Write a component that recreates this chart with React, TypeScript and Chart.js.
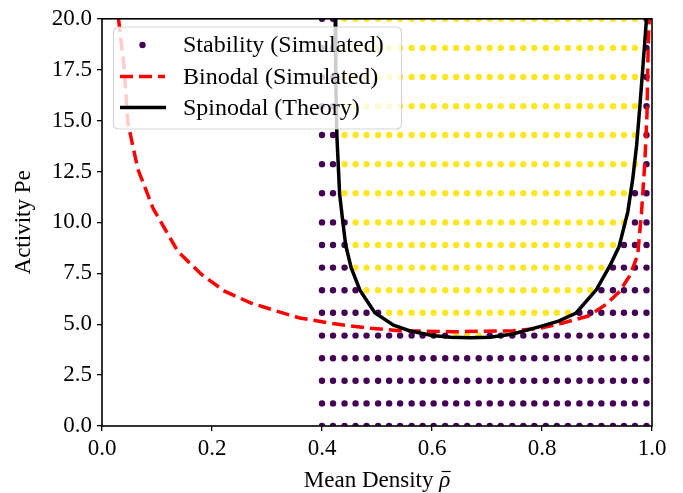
import React, { useEffect, useRef } from "react";
import { Chart, registerables } from "chart.js";

Chart.register(...registerables);

// ---- Data ----
const densities = [
  0.400, 0.420, 0.441, 0.461, 0.481, 0.502, 0.522, 0.542, 0.563, 0.583,
  0.603, 0.624, 0.644, 0.664, 0.685, 0.705, 0.725, 0.746, 0.766, 0.786,
  0.807, 0.827, 0.847, 0.868, 0.888, 0.908, 0.929, 0.949, 0.969, 0.990,
];

const peLevels = [
  0, 1.11, 2.22, 3.33, 4.44, 5.56, 6.67, 7.78, 8.89, 10,
  11.43, 12.86, 14.29, 15.71, 17.14, 18.57, 20,
];

// one string per Pe level (bottom to top); 0 = stable (purple), 1 = unstable (yellow)
const stabilityRows = [
  "000000000000000000000000000000",
  "000000000000000000000000000000",
  "000000000000000000000000000000",
  "000000000000000000000000000000",
  "000000000000111000000000000000",
  "000000111111111111111110000000",
  "000011111111111111111111100000",
  "000111111111111111111111110000",
  "000111111111111111111111111000",
  "000111111111111111111111111100",
  "001111111111111111111111111100",
  "001111111111111111111111111110",
  "001111111111111111111111111110",
  "001111111111111111111111111110",
  "001111111111111111111111111110",
  "001111111111111111111111111110",
  "001111111111111111111111111110",
];

const binodalDensity = [
  0.030, 0.040, 0.047, 0.065, 0.093, 0.138, 0.181, 0.223, 0.270, 0.317,
  0.360, 0.420, 0.480, 0.540, 0.640, 0.747, 0.796, 0.838, 0.884, 0.917,
  0.941, 0.960, 0.974, 0.981, 0.987, 0.991, 0.993, 0.995,
];
const binodalPe = [
  20.0, 17.67, 14.9, 12.63, 10.68, 8.57, 7.44, 6.62, 6.05, 5.65,
  5.30, 5.03, 4.82, 4.68, 4.63, 4.68, 4.80, 5.06, 5.40, 5.98,
  6.60, 7.40, 8.40, 10.5, 12.96, 15.4, 18.6, 20.0,
];

const spinodalDensity = [
  0.424, 0.425, 0.427, 0.432, 0.438, 0.443, 0.453, 0.469, 0.496, 0.530,
  0.559, 0.600, 0.634, 0.670, 0.706, 0.747, 0.796, 0.830, 0.862, 0.899,
  0.923, 0.940, 0.956, 0.965, 0.972, 0.978, 0.984, 0.990,
];
const spinodalPe = [
  20.0, 17.0, 14.3, 11.4, 10.0, 8.89, 7.78, 6.67, 5.56, 4.95,
  4.68, 4.45, 4.36, 4.33, 4.36, 4.52, 4.88, 5.15, 5.55, 6.70,
  7.85, 8.80, 10.52, 12.14, 13.77, 15.72, 17.83, 20.0,
];

const xTickValues = [0, 0.2, 0.4, 0.6, 0.8, 1.0];
const xTickLabels = ["0.0", "0.2", "0.4", "0.6", "0.8", "1.0"];
const yTickValues = [0, 2.5, 5, 7.5, 10, 12.5, 15, 17.5, 20];
const yTickLabels = ["0.0", "2.5", "5.0", "7.5", "10.0", "12.5", "15.0", "17.5", "20.0"];

const legendLabels = ["Stability (Simulated)", "Binodal (Simulated)", "Spinodal (Theory)"];
const xTitle = "Mean Density ";
const xTitleSymbol = "\u03C1";
const yTitle = "Activity Pe";

const STABLE = "#440154";
const UNSTABLE = "#fde725";
const RED = "#ff0000";
const FONT = "'Liberation Serif', 'Times New Roman', serif";
const FS = 23;
const LEG_FS = 24;

const overlayPlugin = {
  id: "overlay",
  afterDatasetsDraw(chart: any) {
    const { ctx, chartArea: a } = chart;
    ctx.save();
    ctx.strokeStyle = "#000";
    ctx.lineWidth = 1.6;
    ctx.strokeRect(a.left, a.top, a.right - a.left, a.bottom - a.top);
    ctx.restore();
  },
  afterDraw(chart: any) {
    const { ctx, chartArea: a } = chart;
    ctx.save();
    // legend frame
    const fx = 113.5, fy = 27, fw = 288, fh = 102, r = 5;
    ctx.beginPath();
    ctx.moveTo(fx + r, fy);
    ctx.arcTo(fx + fw, fy, fx + fw, fy + fh, r);
    ctx.arcTo(fx + fw, fy + fh, fx, fy + fh, r);
    ctx.arcTo(fx, fy + fh, fx, fy, r);
    ctx.arcTo(fx, fy, fx + fw, fy, r);
    ctx.closePath();
    ctx.fillStyle = "rgba(255,255,255,0.8)";
    ctx.fill();
    ctx.strokeStyle = "rgba(204,204,204,0.8)";
    ctx.lineWidth = 1.2;
    ctx.stroke();

    const rowY = [45, 76.5, 107.5];
    // handles
    ctx.fillStyle = STABLE;
    ctx.beginPath();
    ctx.arc(142.5, rowY[0], 3.2, 0, Math.PI * 2);
    ctx.fill();

    ctx.strokeStyle = RED;
    ctx.lineWidth = 3.5;
    ctx.setLineDash([13, 6]);
    ctx.beginPath();
    ctx.moveTo(120, rowY[1]);
    ctx.lineTo(165, rowY[1]);
    ctx.stroke();
    ctx.setLineDash([]);

    ctx.strokeStyle = "#000";
    ctx.beginPath();
    ctx.moveTo(120, rowY[2]);
    ctx.lineTo(166, rowY[2]);
    ctx.stroke();

    ctx.fillStyle = "#000";
    ctx.font = `${LEG_FS}px ${FONT}`;
    ctx.textAlign = "left";
    ctx.textBaseline = "middle";
    legendLabels.forEach((t, i) => ctx.fillText(t, 183, rowY[i] + 1));

    // x title
    ctx.font = `${FS}px ${FONT}`;
    ctx.textBaseline = "alphabetic";
    const w1 = ctx.measureText(xTitle).width;
    ctx.font = `italic ${FS}px ${FONT}`;
    const w2 = ctx.measureText(xTitleSymbol).width;
    const cx = (a.left + a.right) / 2;
    const sx = cx - (w1 + w2) / 2;
    ctx.font = `${FS}px ${FONT}`;
    ctx.fillText(xTitle, sx, 487);
    ctx.font = `italic ${FS}px ${FONT}`;
    ctx.fillText(xTitleSymbol, sx + w1, 487);
    // macron over rho
    ctx.strokeStyle = "#000";
    ctx.lineWidth = 1.2;
    ctx.beginPath();
    ctx.moveTo(sx + w1 + 2.5, 471.5);
    ctx.lineTo(sx + w1 + w2 + 0.5, 471.5);
    ctx.stroke();

    // y title
    ctx.font = `${FS}px ${FONT}`;
    ctx.translate(30, (a.top + a.bottom) / 2);
    ctx.rotate(-Math.PI / 2);
    ctx.textAlign = "center";
    ctx.fillText(yTitle, 0, 0);
    ctx.restore();
  },
};

export default function App() {
  const canvasRef = useRef<HTMLCanvasElement | null>(null);

  useEffect(() => {
    document.body.style.margin = "0";
    const canvas = canvasRef.current;
    if (!canvas) return;

    const dots: { x: number; y: number }[] = [];
    const dotColors: string[] = [];
    peLevels.forEach((pe, r) => {
      densities.forEach((d, i) => {
        dots.push({ x: d, y: pe });
        dotColors.push(stabilityRows[r][i] === "1" ? UNSTABLE : STABLE);
      });
    });

    const chart = new Chart(canvas, {
      type: "scatter",
      data: {
        datasets: [
          {
            label: legendLabels[2],
            type: "line",
            data: spinodalDensity.map((x, i) => ({ x, y: spinodalPe[i] })),
            borderColor: "#000",
            borderWidth: 3.5,
            pointRadius: 0,
            fill: false,
            tension: 0,
            clip: 0,
            order: 0,
          } as any,
          {
            label: legendLabels[1],
            type: "line",
            data: binodalDensity.map((x, i) => ({ x, y: binodalPe[i] })),
            borderColor: RED,
            borderWidth: 3.5,
            borderDash: [13, 6],
            pointRadius: 0,
            fill: false,
            tension: 0,
            clip: 0,
            order: 1,
          } as any,
          {
            label: legendLabels[0],
            data: dots,
            backgroundColor: dotColors,
            pointBackgroundColor: dotColors,
            pointBorderWidth: 0,
            borderWidth: 0,
            pointRadius: 3.2,
            clip: 0,
            order: 2,
          } as any,
        ],
      },
      options: {
        responsive: false,
        animation: false,
        events: [],
        layout: { padding: { top: 15, right: 31, left: 0, bottom: 0 } },
        plugins: {
          legend: { display: false },
          tooltip: { enabled: false },
        },
        scales: {
          x: {
            type: "linear",
            min: 0,
            max: 1,
            afterBuildTicks: (s: any) => {
              s.ticks = xTickValues.map((v) => ({ value: v }));
            },
            afterFit: (s: any) => {
              s.height = 67;
            },
            ticks: {
              color: "#000",
              font: { family: FONT, size: FS },
              padding: 4,
              maxRotation: 0,
              autoSkip: false,
              callback: (_v: any, i: number) => xTickLabels[i],
            },
            grid: {
              display: true,
              drawOnChartArea: false,
              drawTicks: true,
              tickLength: 5,
              color: "#000",
              lineWidth: 1.3,
            },
            border: { display: false },
          },
          y: {
            type: "linear",
            min: 0,
            max: 20,
            afterBuildTicks: (s: any) => {
              s.ticks = yTickValues.map((v) => ({ value: v }));
            },
            afterFit: (s: any) => {
              s.width = 102;
            },
            ticks: {
              color: "#000",
              font: { family: FONT, size: FS },
              padding: 5,
              autoSkip: false,
              callback: (_v: any, i: number) => yTickLabels[i],
            },
            grid: {
              display: true,
              drawOnChartArea: false,
              drawTicks: true,
              tickLength: 5,
              color: "#000",
              lineWidth: 1.3,
            },
            border: { display: false },
          },
        },
      } as any,
      plugins: [overlayPlugin],
    });

    return () => chart.destroy();
  }, []);

  return (
    <div style={{ width: 683, height: 493 }}>
      <canvas ref={canvasRef} width={683} height={493} />
    </div>
  );
}
